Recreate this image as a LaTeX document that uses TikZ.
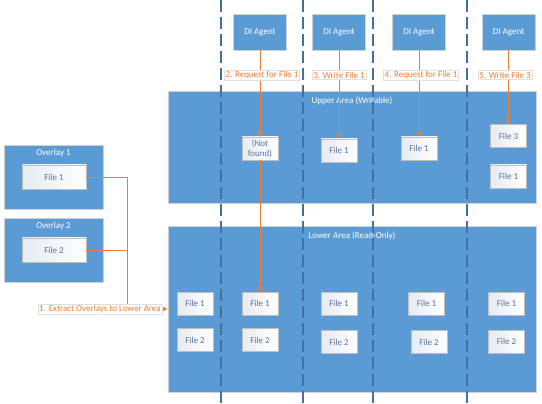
\documentclass[tikz,border=0pt]{standalone}
\usepackage{fontspec}
\setmainfont{Carlito}
\usetikzlibrary{arrows.meta}
\definecolor{areablue}{HTML}{5B9BD5}
\definecolor{dashblue}{HTML}{41719C}
\definecolor{lineorange}{HTML}{ED7D31}
\definecolor{filetext}{HTML}{5A7499}
\definecolor{fileleft}{HTML}{E6EBF3}
\begin{document}
\begin{tikzpicture}[x=1pt,y=-1pt,
  area/.style={draw=black!18, line width=0.8pt, fill=areablue, inner sep=0pt},
  areatitle/.style={text=white, font=\fontsize{9}{10}\selectfont, inner sep=0pt},
  agent/.style={draw=black!18, line width=0.6pt, fill=areablue, text=white,
    minimum width=53pt, minimum height=36pt, inner sep=0pt, font=\fontsize{9}{10}\selectfont},
  filebox/.style={draw=black!25, line width=0.5pt, left color=fileleft, right color=white,
    minimum width=36pt, minimum height=23pt, inner sep=0pt, text=filetext,
    font=\fontsize{9}{10}\selectfont, align=center},
  ovfile/.style={filebox, minimum width=64pt, minimum height=24pt},
  lbl/.style={draw=black!12, line width=0.4pt, fill=white, text=lineorange,
    inner sep=1.2pt, font=\fontsize{9}{10}\selectfont},
  conn/.style={draw=lineorange, line width=0.8pt},
  arr/.style={conn, -{Triangle[length=5pt,width=4.5pt]}},
  lane/.style={draw=dashblue, line width=1.6pt, dash pattern=on 12pt off 5pt}
]
\useasboundingbox (0,0) rectangle (542,404);
% areas
\node[area, minimum width=368pt, minimum height=112pt] (upper) at (352,147) {};
\node[areatitle] (uppert) at (352,100.5) {Upper Area (Writable)};
\node[area, minimum width=368pt, minimum height=166pt] (lower) at (352,309) {};
\node[areatitle] (lowert) at (352,235.5) {Lower Area (Read-Only)};
\node[area, minimum width=99pt, minimum height=64pt] (ov1) at (53.5,177) {};
\node[areatitle] (ov1t) at (53.5,153.5) {Overlay 1};
\node[area, minimum width=99pt, minimum height=64pt] (ov2) at (53.5,250) {};
\node[areatitle] (ov2t) at (53.5,226.5) {Overlay 2};
\node[ovfile] (ov1f) at (54,177) {File 1};
\node[ovfile] (ov2f) at (54,250) {File 2};
% lanes
\coordinate (d1t) at (221,0); \coordinate (d1b) at (221,404);
\coordinate (d2t) at (303,0); \coordinate (d2b) at (303,404);
\coordinate (d3t) at (373,0); \coordinate (d3b) at (373,404);
\coordinate (d4t) at (467,0); \coordinate (d4b) at (467,404);
\draw[lane] (d1t) -- (d1b);
\draw[lane] (d2t) -- (d2b);
\draw[lane] (d3t) -- (d3b);
\draw[lane] (d4t) -- (d4b);
% agents
\node[agent] (a1) at (260,32) {DI Agent};
\node[agent] (a2) at (339,32) {DI Agent};
\node[agent] (a3) at (419,32) {DI Agent};
\node[agent] (a4) at (508.5,32) {DI Agent};
% upper files
\node[filebox] (nf) at (260,148.5) {(Not\\found)};
\node[filebox] (u3) at (339,150.5) {File 1};
\node[filebox] (u4) at (419,148.5) {File 1};
\node[filebox] (u5a) at (508.5,136) {File 3};
\node[filebox] (u5b) at (508.5,176.5) {File 1};
% lower files
\node[filebox] (l1a) at (195,303.5) {File 1};
\node[filebox] (l1b) at (195,340) {File 2};
\node[filebox] (l2a) at (260,303.5) {File 1};
\node[filebox] (l2b) at (260,340) {File 2};
\node[filebox] (l3a) at (339,303.5) {File 1};
\node[filebox] (l3b) at (339,342) {File 2};
\node[filebox] (l4a) at (426.5,303.5) {File 1};
\node[filebox] (l4b) at (429,342) {File 2};
\node[filebox] (l5a) at (506.5,303.5) {File 1};
\node[filebox] (l5b) at (506.5,341.5) {File 2};
% connectors
\draw[arr] (a1.south) -- (nf.north);
\draw[arr] (nf.south) -- (l2a.north);
\draw[arr] (a2.south) -- (u3.north);
\draw[arr] (a3.south) -- (u4.north);
\draw[arr] (a4.south) -- (u5a.north);
\coordinate (j1) at (127,177);
\coordinate (j2) at (127,250);
\coordinate (j3) at (127,309);
\coordinate (lw) at (lower.west |- j3);
\draw[conn] (ov1f.east) -- (j1) -- (j3);
\draw[conn] (ov2f.east) -- (j2);
\draw[arr] (j3) -- (lw);
% labels
\node[lbl] (lb1) at (100,309) {1. Extract Overlays to Lower Area};
\node[lbl] (lb2) at (262,75) {2. Request for File 1};
\node[lbl] (lb3) at (339,75) {3. Write File 1};
\node[lbl] (lb4) at (421,75) {4. Request for File 1};
\node[lbl] (lb5) at (505,75) {5. Write File 3};
\end{tikzpicture}
\end{document}
